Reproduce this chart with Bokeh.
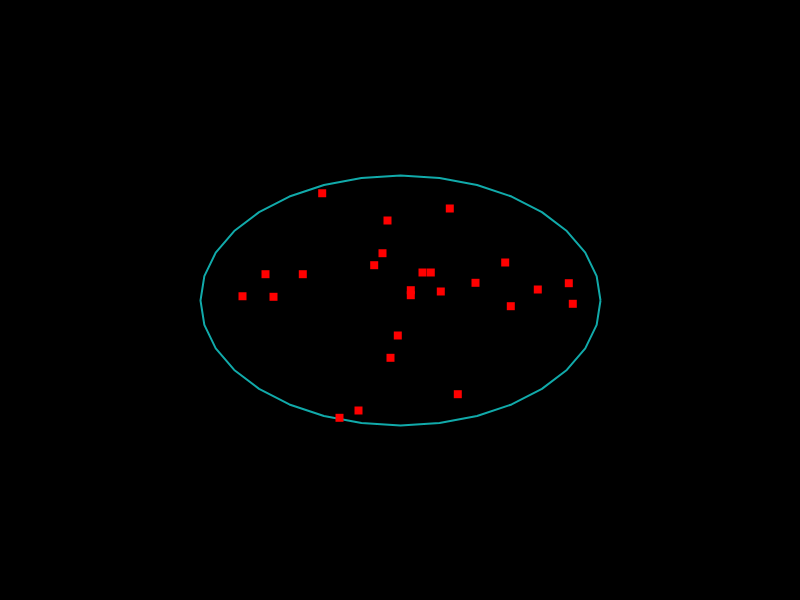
import numpy as np
from bokeh.plotting import figure
from bokeh.models import Range1d
from bokeh.embed import file_html
from bokeh.resources import INLINE

# Scatter points (centered coordinates, y up)
xs = [-78.3, -13, -18, -26.3, -135, -97.7, -158, -127, 49.3, 104.7, 22, 30.3, 75,
      168.3, 10.3, 10.3, 40.3, 137.3, 110.3, 172.3, -10, -2.7, -42, -61, 57.3]
ys = [107.3, 80, 47.3, 35.3, 26.3, 26.3, 4.3, 3.7, 92, 38, 28, 28, 17.7,
      17.3, 10.3, 5.3, 9, 11, -5.7, -3.3, -57.3, -35, -110, -117.3, -93.7]

# Ellipse boundary
center_x, center_y = 0, 0
radius_x, radius_y = 200, 125
n_segments = 32

t = np.linspace(0, 2 * np.pi, n_segments + 1)
ex = center_x + radius_x * np.cos(t)
ey = center_y + radius_y * np.sin(t)

p = figure(width=800, height=600, output_backend="svg", toolbar_location=None,
           x_range=Range1d(-400, 400), y_range=Range1d(-300, 300),
           background_fill_color="black", border_fill_color="black",
           min_border=0, outline_line_color=None)
p.xaxis.visible = False
p.yaxis.visible = False
p.grid.visible = False

p.line(ex, ey, line_color="#11aaaa", line_width=2)
p.scatter(xs, ys, marker="square", size=8, fill_color="#ff0000", line_color="#ff0000", line_width=0)

html = file_html(p, INLINE)
html = html.replace("</head>", "<style>html,body{margin:0;padding:0;background:#000;}</style></head>", 1)
open("out.html", "w").write(html)
